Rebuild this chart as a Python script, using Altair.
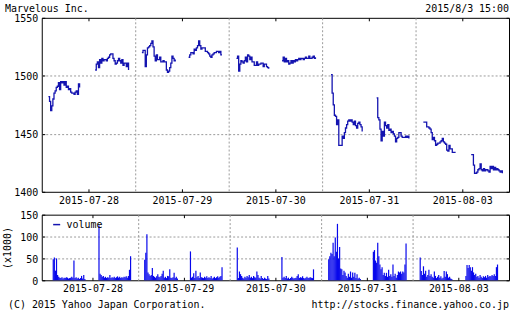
import altair as alt
import pandas as pd

# ---------------- data ----------------
DATES = ["2015-07-28", "2015-07-29", "2015-07-30", "2015-07-31", "2015-08-03"]
COMPANY = "Marvelous Inc."
STAMP = "2015/8/3 15:00"
COPYRIGHT = "(C) 2015 Yahoo Japan Corporation."
URL = "http://stocks.finance.yahoo.co.jp"
SERIES = "volume"
VOL_TITLE = "(x1000)"

PRICE_TICKS = [1400, 1450, 1500, 1550]
VOL_TICKS = [0, 50, 100, 150]

# 5-minute prices; morning session from 9:00, afternoon from 12:30 (None = no trade)
PRICE_AM_0728 = [1482, 1478, 1470, 1474, 1480, 1485, 1487, 1490, 1491, 1494, 1488, 1495, 1494, 1495, 1492,
                 1495, 1490, 1491, 1488, 1489, 1486, 1485, 1485, 1484, 1486, 1487, 1484, 1493, 1490]
PRICE_PM_0728 = [1505, 1510, 1512, 1507, 1514, 1511, 1515, 1513, 1514, 1514, 1513, 1515, 1516, 1518, 1519,
                 1519, 1515, 1513, 1510, 1511, 1513, 1515, 1513, 1511, 1514, 1509, 1511, 1511, 1508, 1511, 1505]
PRICE_AM_0729 = [1520, 1522, 1522, 1508, 1518, 1524, 1525, 1526, 1528, 1530, 1525, 1517, 1513, 1518, 1514,
                 1514, 1516, 1512, 1512, 1513, 1512, 1512, 1505, 1503, 1504, 1507, 1511, 1517, 1515, 1513, 1514]
PRICE_PM_0729 = [1516, 1518, 1520, 1520, 1519, 1523, 1522, 1524, 1526, 1530, 1526, 1523, 1524, 1524, 1524,
                 1521, 1521, 1520, 1519, 1517, 1516, 1518, 1519, 1520, 1520, 1521, 1521, 1520, 1521, 1518, 1518]
PRICE_AM_0730 = [None, 1515, 1517, 1504, 1510, 1513, 1512, 1511, 1513, 1516, 1512, 1518, 1517, 1514, 1516,
                 1512, 1512, 1509, 1509, 1512, 1509, 1510, 1510, 1511, 1511, 1508, 1510, 1510, 1508, 1507, 1506]
PRICE_PM_0730 = [1513, 1516, 1512, 1515, 1512, 1513, 1510, 1511, 1513, 1511, 1513, 1512, 1514, 1513, 1514,
                 1515, 1514, 1515, 1515, 1514, 1515, 1516, 1515, 1515, 1517, 1515, 1515, 1516, 1517, 1515, 1516]
PRICE_AM_0731 = [None, None, 1501, 1485, 1475, 1466, 1465, 1458, 1462, 1440, 1440, 1440, 1448, 1446, 1451,
                 1455, 1458, 1461, 1462, 1461, 1462, 1460, 1458, 1461, 1457, 1455, 1459, 1460, 1458, 1456, 1452]
PRICE_PM_0731 = [None, 1481, 1464, 1462, 1454, 1444, 1452, 1448, 1460, 1457, 1455, 1458, 1453, 1454, 1451,
                 1452, 1450, 1448, 1443, 1446, 1447, 1451, 1451, 1448, 1447, 1447, 1447, 1448, 1447, 1448, 1446]
PRICE_AM_0803 = [None, 1460, 1460, 1460, 1456, 1456, 1455, 1454, 1451, 1445, 1447, 1444, 1440, 1441, 1442,
                 1442, 1443, 1444, 1446, 1443, 1442, 1441, 1436, 1435, 1440, 1437, 1437, 1434, 1434, 1434, 1434]
PRICE_PM_0803 = [None, None, 1432, 1432, 1423, 1416, 1416, 1417, 1419, 1420, 1424, 1419, 1418, 1420, 1418,
                 1419, 1419, 1418, 1417, 1422, 1420, 1422, 1419, 1421, 1419, 1420, 1419, 1418, 1417, 1418, 1416]

# 5-minute volume (x1000 shares)
VOL_AM_0728 = [48, 52, 22, 50, 12, 8, 6, 5, 7, 4, 6, 5, 7, 6, 4, 5, 6, 8, 6, 45, 5, 7, 4, 6, 3, 5, 10, 4, 12, 3]
VOL_PM_0728 = [125, 15, 12, 8, 10, 6, 8, 5, 7, 6, 12, 5, 7, 6, 8, 5, 7, 9, 6, 8, 5, 7, 6, 8, 7, 9, 6, 10, 24, 55]
VOL_AM_0729 = [47, 63, 105, 18, 14, 10, 12, 28, 10, 8, 6, 9, 14, 8, 7, 10, 15, 22, 6, 8, 5, 10, 9, 25, 6, 5,
               7, 17, 5, 8, 4]
VOL_PM_0729 = [66, 6, 8, 16, 5, 22, 7, 10, 5, 18, 7, 6, 5, 8, 6, 9, 5, 7, 5, 10, 4, 6, 8, 5, 7, 9, 6, 8, 10, 30]
VOL_AM_0730 = [None, 75, 5, 20, 14, 10, 6, 4, 8, 6, 10, 7, 12, 6, 8, 5, 10, 7, 6, 20, 12, 6, 4, 10, 5, 3, 6,
               4, 3, 10, 4]
VOL_PM_0730 = [53, 6, 8, 5, 10, 4, 6, 3, 5, 8, 6, 4, 5, 6, 10, 14, 5, 7, 6, 9, 5, 4, 6, 8, 5, 6, 7, 6, 5, 25]
VOL_AM_0731 = [None, 48, 55, 63, 60, 86, 55, 98, 65, 129, 50, 76, 27, 25, 12, 22, 18, 10, 6, 15, 8, 20, 6,
               18, 8, 17, 5, 14, 4, 6, 3]
VOL_PM_0731 = [65, 69, 45, 40, 86, 55, 36, 25, 30, 12, 17, 10, 17, 8, 24, 10, 14, 8, 36, 10, 15, 6, 12, 20,
               18, 20, 15, 20, 18, 36, 84]
VOL_AM_0803 = [None, 52, 21, 12, 32, 15, 22, 8, 12, 24, 10, 14, 8, 6, 20, 10, 5, 8, 12, 6, 9, 4, 6, 21, 8,
               20, 14, 6, 8, 4, 3]
VOL_PM_0803 = [None, 10, 35, 28, 35, 30, 22, 30, 18, 12, 15, 8, 10, 6, 12, 8, 5, 9, 7, 10, 6, 12, 8, 10, 9,
               12, 10, 14, 10, 30, 36]

PRICE_AM = [PRICE_AM_0728, PRICE_AM_0729, PRICE_AM_0730, PRICE_AM_0731, PRICE_AM_0803]
PRICE_PM = [PRICE_PM_0728, PRICE_PM_0729, PRICE_PM_0730, PRICE_PM_0731, PRICE_PM_0803]
VOL_AM = [VOL_AM_0728, VOL_AM_0729, VOL_AM_0730, VOL_AM_0731, VOL_AM_0803]
VOL_PM = [VOL_PM_0728, VOL_PM_0729, VOL_PM_0730, VOL_PM_0731, VOL_PM_0803]

# time axis: each trading day shown from 8:30 to 15:30 (7 hours)
DAY_HOURS = 7.0
AM_OPEN = 0.5   # 9:00 after 8:30
PM_OPEN = 4.0   # 12:30 after 8:30
STEP = 5 / 60.0

price_rows, vol_rows = [], []
for d in range(len(DATES)):
    for sess, open_h, plist, vlist in (("am", AM_OPEN, PRICE_AM[d], VOL_AM[d]),
                                        ("pm", PM_OPEN, PRICE_PM[d], VOL_PM[d])):
        for i, p in enumerate(plist):
            if p is not None:
                price_rows.append({"t": d * DAY_HOURS + open_h + i * STEP, "price": p,
                                   "session": f"{d}{sess}"})
        for i, v in enumerate(vlist):
            if v is not None:
                vol_rows.append({"t": d * DAY_HOURS + open_h + i * STEP, "vol": v, "series": SERIES})
price_df = pd.DataFrame(price_rows)
vol_df = pd.DataFrame(vol_rows)

# ---------------- style ----------------
FONT = "DejaVu Sans Mono"
LINE_BLUE = "#1414b0"
BAR_BLUE = "#0808ec"
GRID = "#9a9a9a"
W = 470
H_PRICE = 175
H_VOL = 66

n_days = len(DATES)
xscale = alt.Scale(domain=[0, n_days * DAY_HOURS], nice=False, zero=False)
mids = [d * DAY_HOURS + DAY_HOURS / 2 for d in range(n_days)]
bounds = [d * DAY_HOURS for d in range(1, n_days)]
label_expr = f"{DATES}[floor(datum.value / {DAY_HOURS})]"


def x_main(pad):
    return alt.Axis(orient="bottom", values=mids, labelExpr=label_expr, ticks=False, domain=False,
                    grid=False, labelPadding=pad, labelFlush=False, labelOverlap=False, title=None)


x_grid = alt.Axis(orient="bottom", values=bounds, grid=True, gridColor=GRID, gridDash=[2, 2],
                  ticks=False, labels=False, domain=False, title=None)
x_top = alt.Axis(orient="top", values=mids, offset=-3, tickSize=3, tickColor="black", labels=False,
                 domain=False, grid=False, title=None)
x_bot = alt.Axis(orient="bottom", values=mids, offset=-3, tickSize=3, tickColor="black", labels=False,
                 domain=False, grid=False, title=None)


def y_main(ticks, title=None):
    lo, hi = min(ticks), max(ticks)
    kw = dict(orient="left", values=ticks, format="d", ticks=False, domain=False, grid=True,
              gridColor=GRID, gridDash=[2, 2],
              gridOpacity={"condition": {"test": f"datum.value <= {lo} || datum.value >= {hi}", "value": 0},
                           "value": 1},
              labelPadding=4, labelOffset=1)
    if title:
        kw.update(title=title, titlePadding=7)
    else:
        kw.update(title=None)
    return alt.Axis(**kw)


def y_left_ticks(ticks):
    return alt.Axis(orient="left", values=ticks, offset=-3, tickSize=3, tickColor="black", labels=False,
                    domain=False, grid=False, title=None)


def y_right_ticks(ticks):
    return alt.Axis(orient="right", values=ticks, offset=-3, tickSize=3, tickColor="black", labels=False,
                    domain=False, grid=False, title=None)


def text_layer(label, xpos, ypos, align):
    return alt.Chart(pd.DataFrame({"label": [label]})).mark_text(
        align=align, baseline="middle", font=FONT, fontSize=10, color="black"
    ).encode(text="label:N", x=alt.value(xpos), y=alt.value(ypos))


# ---------------- price panel ----------------
pscale = alt.Scale(domain=[min(PRICE_TICKS), max(PRICE_TICKS)], nice=False, zero=False)
pbase = alt.Chart(price_df)
price_line = pbase.mark_line(interpolate="step-after", color=LINE_BLUE, strokeWidth=1.3).encode(
    x=alt.X("t:Q", scale=xscale, axis=x_main(4)),
    y=alt.Y("price:Q", scale=pscale, axis=y_main(PRICE_TICKS)),
    detail="session:N",
)
p_inv1 = pbase.mark_point(opacity=0).encode(
    x=alt.X("t:Q", scale=xscale, axis=x_grid),
    y=alt.Y("price:Q", scale=pscale, axis=y_left_ticks(PRICE_TICKS)))
p_inv2 = pbase.mark_point(opacity=0).encode(
    x=alt.X("t:Q", scale=xscale, axis=x_top),
    y=alt.Y("price:Q", scale=pscale, axis=y_right_ticks(PRICE_TICKS)))
p_inv3 = pbase.mark_point(opacity=0).encode(
    x=alt.X("t:Q", scale=xscale, axis=x_bot),
    y=alt.Y("price:Q", scale=pscale, axis=None))

price_chart = alt.layer(
    price_line, p_inv1, p_inv2, p_inv3,
    text_layer(COMPANY, -37, -9, "left"),
    text_layer(STAMP, W, -9, "right"),
).resolve_axis(x="independent", y="independent").properties(width=W, height=H_PRICE)

# ---------------- volume panel ----------------
vscale = alt.Scale(domain=[min(VOL_TICKS), max(VOL_TICKS)], nice=False, zero=True)
vbase = alt.Chart(vol_df)
bars = vbase.mark_bar(size=1.2).encode(
    x=alt.X("t:Q", scale=xscale, axis=x_main(3)),
    y=alt.Y("vol:Q", scale=vscale, axis=y_main(VOL_TICKS, VOL_TITLE), stack=None),
    color=alt.Color("series:N", scale=alt.Scale(range=[BAR_BLUE]),
                    legend=alt.Legend(orient="none", legendX=10, legendY=203, title=None,
                                      symbolType="stroke", symbolStrokeColor=LINE_BLUE,
                                      symbolStrokeWidth=1.5, symbolSize=50, labelOffset=5,
                                      padding=0, labelFont=FONT, labelFontSize=10)),
)
v_inv1 = vbase.mark_point(opacity=0).encode(
    x=alt.X("t:Q", scale=xscale, axis=x_grid),
    y=alt.Y("vol:Q", scale=vscale, axis=y_left_ticks(VOL_TICKS)))
v_inv2 = vbase.mark_point(opacity=0).encode(
    x=alt.X("t:Q", scale=xscale, axis=x_top),
    y=alt.Y("vol:Q", scale=vscale, axis=y_right_ticks(VOL_TICKS)))
v_inv3 = vbase.mark_point(opacity=0).encode(
    x=alt.X("t:Q", scale=xscale, axis=x_bot),
    y=alt.Y("vol:Q", scale=vscale, axis=None))

vol_chart = alt.layer(
    bars, v_inv1, v_inv2, v_inv3,
    text_layer(COPYRIGHT, -34, H_VOL + 25, "left"),
    text_layer(URL, W, H_VOL + 25, "right"),
).resolve_axis(x="independent", y="independent").properties(width=W, height=H_VOL)

chart = alt.vconcat(price_chart, vol_chart, spacing=3).properties(
    padding={"left": 2, "top": 2, "right": 2, "bottom": 2},
    background="white",
).configure_view(stroke="black", strokeWidth=1).configure_axis(
    labelFont=FONT, labelFontSize=10, labelColor="black", titleFont=FONT, titleFontSize=10,
    titleFontWeight="normal", titleColor="black",
).configure_legend(labelFont=FONT, labelFontSize=10, labelColor="black")

chart.save("out.html", embed_options={"renderer": "svg", "actions": False})
